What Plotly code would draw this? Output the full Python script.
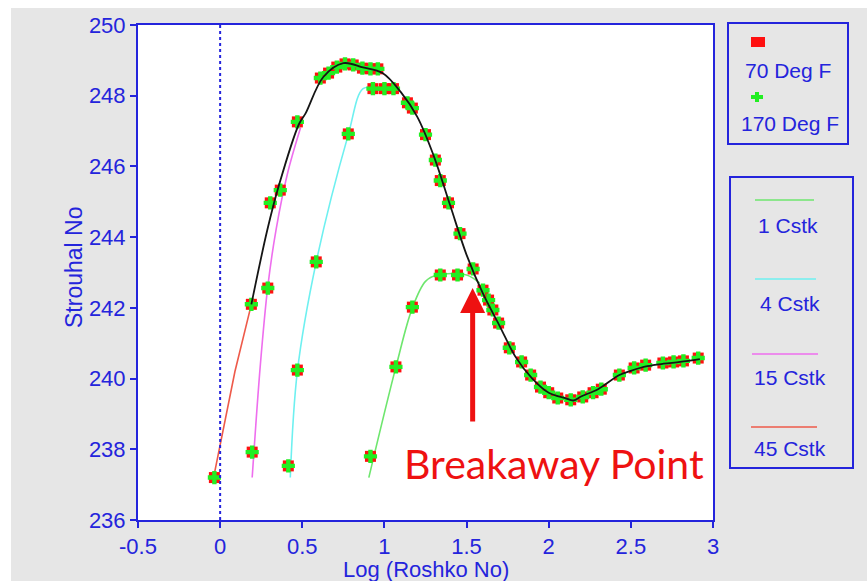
import plotly.graph_objects as go

# ---------------- data ----------------
# measured points (70 Deg F and 170 Deg F nearly coincide)
temp70_x = [-0.035, 0.19, 0.195, 0.29, 0.305, 0.366, 0.415, 0.47, 0.47, 0.585,
            0.61, 0.66, 0.71, 0.76, 0.81, 0.78, 0.866, 0.915, 0.96, 0.93, 1.0, 1.055,
            0.915, 1.07, 1.17, 1.14, 1.17, 1.25, 1.31, 1.34, 1.39, 1.46,
            1.34, 1.445, 1.54, 1.60, 1.634, 1.66, 1.695, 1.76, 1.835, 1.89,
            1.95, 2.0, 2.055, 2.134, 2.207, 2.27, 2.32, 2.43, 2.52, 2.59,
            2.695, 2.76, 2.82, 2.91]
temp70_y = [237.2, 242.1, 237.92, 242.56, 244.97, 245.33, 237.53, 240.24, 247.26, 243.3,
            248.5, 248.64, 248.81, 248.9, 248.87, 246.92, 248.78, 248.76, 248.76, 248.2, 248.2, 248.2,
            237.8, 240.33, 242.02, 247.8, 247.65, 246.9, 246.18, 245.6, 244.97, 244.1,
            242.93, 242.93, 243.1, 242.5, 242.22, 241.94, 241.57, 240.87, 240.47, 240.1,
            239.76, 239.6, 239.45, 239.4, 239.48, 239.6, 239.7, 240.1, 240.3, 240.38,
            240.44, 240.47, 240.5, 240.58]
temp170_x = list(temp70_x)
temp170_y = list(temp70_y)

# fitted curves per viscosity
c45_x = [-0.04, 0.0, 0.09, 0.19]
c45_y = [237.2, 238.15, 240.2, 242.1]
c15_x = [0.195, 0.245, 0.29, 0.34, 0.41, 0.49]
c15_y = [237.2, 240.4, 242.6, 244.2, 245.8, 247.1]
c4_x = [0.427, 0.47, 0.585, 0.78, 0.87, 0.95, 1.06]
c4_y = [237.2, 240.2, 243.3, 246.9, 248.2, 248.22, 248.2]
c1_x = [0.905, 1.07, 1.17, 1.25, 1.32, 1.5, 1.58]
c1_y = [237.2, 240.33, 242.0, 242.75, 242.93, 242.93, 242.7]
env_x = [0.19, 0.287, 0.36, 0.48, 0.52, 0.628, 0.75, 0.87, 0.988, 1.1, 1.2, 1.3, 1.4,
         1.5, 1.6, 1.7, 1.8, 1.9, 2.0, 2.1, 2.15, 2.2, 2.3, 2.43, 2.5, 2.6, 2.7, 2.8, 2.92]
env_y = [242.1, 244.2, 245.5, 247.2, 247.5, 248.53, 248.92, 248.8, 248.64, 248.1, 247.4,
         246.3, 244.9, 243.5, 242.4, 241.5, 240.6, 240.0, 239.6, 239.45, 239.38, 239.5,
         239.7, 240.1, 240.22, 240.35, 240.42, 240.47, 240.55]

x_ticks = [-0.5, 0, 0.5, 1, 1.5, 2, 2.5, 3]
x_tick_text = ["-0.5", "0", "0.5", "1", "1.5", "2", "2.5", "3"]
y_ticks = [236, 238, 240, 242, 244, 246, 248, 250]

legend_temps = ["70 Deg F", "170 Deg F"]
legend_visc = ["1 Cstk", "4 Cstk", "15 Cstk", "45 Cstk"]

# ---------------- style ----------------
BLUE = "#2424dc"
GRAY = "#e6e6e6"
FONT = "Liberation Sans, Arial, sans-serif"
COL_1 = "#6ee66e"
COL_4 = "#6ef0f0"
COL_15 = "#ee6eee"
COL_45 = "#ee5a4a"

W, H = 867, 581
L, R, T, B = 138, 154, 25, 61
PW, PH = W - L - R, H - T - B


def px(xp):
    return (xp - L) / PW


def py(yp):
    return (H - B - yp) / PH


fig = go.Figure()

for xs, ys, col, shp in [(c45_x, c45_y, COL_45, "linear"), (c15_x, c15_y, COL_15, "spline"),
                         (c4_x, c4_y, COL_4, "spline"), (c1_x, c1_y, COL_1, "spline")]:
    fig.add_trace(go.Scatter(x=xs, y=ys, mode="lines",
                             line=dict(color=col, width=1.6, shape=shp),
                             showlegend=False, hoverinfo="skip"))

fig.add_trace(go.Scatter(x=temp70_x, y=temp70_y, mode="markers", name=legend_temps[0],
                         marker=dict(symbol="square", size=11, color="#ff1010",
                                     line=dict(width=0)),
                         showlegend=False))
fig.add_trace(go.Scatter(x=temp170_x, y=temp170_y, mode="markers", name=legend_temps[1],
                         marker=dict(symbol="cross", size=11, color="#22ee22",
                                     line=dict(width=0)),
                         showlegend=False))

fig.add_trace(go.Scatter(x=env_x, y=env_y, mode="lines",
                         line=dict(color="#151515", width=1.8, shape="spline"),
                         showlegend=False, hoverinfo="skip"))

shapes = []
# white strip top and left of the picture
shapes.append(dict(type="rect", xref="paper", yref="paper", x0=px(-5), x1=px(W + 5),
                   y0=py(8), y1=py(-5), fillcolor="white", line=dict(width=0), layer="below"))
shapes.append(dict(type="rect", xref="paper", yref="paper", x0=px(-5), x1=px(11),
                   y0=py(H + 5), y1=py(-5), fillcolor="white", line=dict(width=0), layer="below"))
# dotted vertical line at x = 0
shapes.append(dict(type="line", xref="x", yref="paper", x0=0, x1=0, y0=0, y1=1,
                   line=dict(color=BLUE, width=2, dash="dot")))
# legend boxes
shapes.append(dict(type="rect", xref="paper", yref="paper", x0=px(728), x1=px(848),
                   y0=py(144), y1=py(23), line=dict(color=BLUE, width=2), fillcolor=GRAY))
shapes.append(dict(type="rect", xref="paper", yref="paper", x0=px(730), x1=px(853),
                   y0=py(468), y1=py(177), line=dict(color=BLUE, width=2), fillcolor=GRAY))
# legend symbols: red square, green plus
shapes.append(dict(type="rect", xref="paper", yref="paper", x0=px(751), x1=px(765),
                   y0=py(47), y1=py(37), fillcolor="#ff1010", line=dict(width=0)))
shapes.append(dict(type="rect", xref="paper", yref="paper", x0=px(751), x1=px(763),
                   y0=py(99), y1=py(95), fillcolor="#22ee22", line=dict(width=0)))
shapes.append(dict(type="rect", xref="paper", yref="paper", x0=px(755), x1=px(759),
                   y0=py(102), y1=py(92), fillcolor="#22ee22", line=dict(width=0)))
# legend lines
for (yline, x0, x1, col) in [(200, 755, 814, COL_1), (279, 755, 816, COL_4),
                             (354, 752, 818, COL_15), (427, 751, 817, COL_45)]:
    shapes.append(dict(type="line", xref="paper", yref="paper", x0=px(x0), x1=px(x1),
                       y0=py(yline), y1=py(yline), line=dict(color=col, width=1.6)))

annotations = []
legend_font = dict(family=FONT, size=21, color=BLUE)
for text, (xc, yc) in zip(legend_temps, [(788, 70), (790, 123)]):
    annotations.append(dict(text=text, xref="paper", yref="paper", x=px(xc), y=py(yc),
                            xanchor="center", yanchor="middle", showarrow=False, font=legend_font))
for text, (xc, yc) in zip(legend_visc, [(788, 226), (790, 303), (790, 377), (790, 448)]):
    annotations.append(dict(text=text, xref="paper", yref="paper", x=px(xc), y=py(yc),
                            xanchor="center", yanchor="middle", showarrow=False, font=legend_font))

# axis titles
annotations.append(dict(text="Strouhal No", xref="paper", yref="paper", x=px(74), y=py(268),
                        textangle=-90, xanchor="center", yanchor="middle", showarrow=False,
                        font=dict(family=FONT, size=23, color=BLUE)))
annotations.append(dict(text="Log (Roshko No)", xref="paper", yref="paper", x=0.5, y=py(569),
                        xanchor="center", yanchor="middle", showarrow=False,
                        font=dict(family=FONT, size=22, color=BLUE)))

# breakaway arrow and label
annotations.append(dict(text="", x=1.537, y=242.56, xref="x", yref="y",
                        ax=1.537, ay=238.74, axref="x", ayref="y",
                        showarrow=True, arrowhead=2, arrowsize=1.0, arrowwidth=5,
                        arrowcolor="#ee1111", standoff=0))
annotations.append(dict(text="Breakaway Point", x=2.03, y=237.61, xref="x", yref="y",
                        xanchor="center", yanchor="middle", showarrow=False,
                        font=dict(family="Lato, Open Sans, sans-serif", size=41, color="#ee1111")))

axis_common = dict(showgrid=False, zeroline=False, showline=True, linecolor=BLUE,
                   linewidth=2, mirror=True, ticks="outside", ticklen=6, tickwidth=2,
                   tickcolor=BLUE, tickfont=dict(family=FONT, size=22, color=BLUE))

fig.update_layout(
    width=W, height=H,
    margin=dict(l=L, r=R, t=T, b=B),
    paper_bgcolor=GRAY, plot_bgcolor="white",
    xaxis=dict(range=[-0.5, 3], tickvals=x_ticks, ticktext=x_tick_text, ticklabelstandoff=0,
               **axis_common),
    yaxis=dict(range=[236, 250], tickvals=y_ticks, ticklabelstandoff=0, **axis_common),
    shapes=shapes, annotations=annotations, showlegend=False,
)

fig.write_html("out.html")
